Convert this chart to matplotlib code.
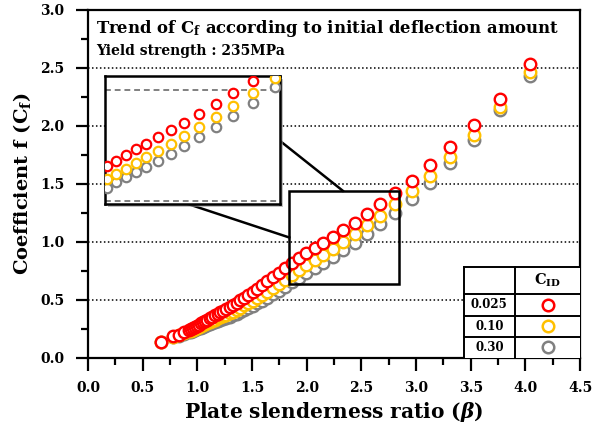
import matplotlib
matplotlib.use("Agg")
import matplotlib.pyplot as plt
from matplotlib.patches import Rectangle
from matplotlib.ticker import MultipleLocator

plt.rcParams["font.family"] = "DejaVu Serif"
plt.rcParams["font.weight"] = "bold"
plt.rcParams["mathtext.fontset"] = "custom"
plt.rcParams["mathtext.rm"] = "DejaVu Serif:bold"
plt.rcParams["mathtext.bf"] = "DejaVu Serif:bold"
plt.rcParams["mathtext.it"] = "DejaVu Serif:italic:bold"

# plate slenderness ratio
beta = [0.665, 0.78, 0.83, 0.88, 0.926, 0.942, 0.958, 0.975, 0.992, 1.011,
        1.029, 1.049, 1.069, 1.090, 1.112, 1.135, 1.159, 1.184, 1.210, 1.237,
        1.265, 1.295, 1.326, 1.358, 1.393, 1.429, 1.466, 1.506, 1.549, 1.593,
        1.641, 1.691, 1.744, 1.801, 1.862, 1.927, 1.996, 2.071, 2.152, 2.239,
        2.334, 2.437, 2.549, 2.672, 2.808, 2.959, 3.126, 3.313, 3.525, 3.765,
        4.04]

# coefficient f for each initial deflection amount
cf_0025 = [0.14, 0.185, 0.20, 0.22, 0.24, 0.248, 0.256, 0.265, 0.275, 0.286,
           0.296, 0.307, 0.318, 0.330, 0.341, 0.353, 0.366, 0.379, 0.392, 0.406,
           0.421, 0.437, 0.455, 0.474, 0.496, 0.518, 0.542, 0.569, 0.597, 0.625,
           0.658, 0.694, 0.732, 0.772, 0.815, 0.858, 0.900, 0.944, 0.990, 1.043,
           1.100, 1.166, 1.240, 1.322, 1.418, 1.527, 1.660, 1.820, 2.005, 2.230,
           2.530]
cf_010 = [0.14, 0.182, 0.195, 0.212, 0.228, 0.235, 0.241, 0.249, 0.257, 0.266,
          0.274, 0.283, 0.292, 0.301, 0.310, 0.319, 0.329, 0.339, 0.349, 0.360,
          0.372, 0.385, 0.399, 0.415, 0.433, 0.451, 0.471, 0.494, 0.518, 0.542,
          0.571, 0.603, 0.637, 0.674, 0.715, 0.756, 0.797, 0.840, 0.886, 0.940,
          0.998, 1.066, 1.142, 1.226, 1.324, 1.435, 1.570, 1.732, 1.923, 2.160,
          2.460]
cf_030 = [0.14, 0.18, 0.192, 0.207, 0.22, 0.226, 0.231, 0.238, 0.245, 0.253,
          0.26, 0.267, 0.275, 0.283, 0.29, 0.298, 0.306, 0.315, 0.323, 0.332,
          0.342, 0.352, 0.365, 0.378, 0.394, 0.41, 0.428, 0.449, 0.47, 0.492,
          0.518, 0.547, 0.579, 0.613, 0.651, 0.69, 0.729, 0.771, 0.816, 0.869,
          0.927, 0.994, 1.07, 1.154, 1.252, 1.372, 1.51, 1.68, 1.875, 2.14,
          2.43]

cid_labels = ["0.025", "0.10", "0.30"]
colors = ["#ff0000", "#ffc000", "#808080"]
series = [cf_0025, cf_010, cf_030]

# zoomed window shown in the inset
box_x = (1.84, 2.84)
box_y = (0.635, 1.44)

fig = plt.figure(figsize=(5.95, 4.28), dpi=100)
ax = fig.add_axes([0.148, 0.164, 0.827, 0.813])

def draw_series(a, ms, mew):
    # gray first so the red circles sit on top
    for ys, c in zip(series[::-1], colors[::-1]):
        a.plot(beta, ys, ls="none", marker="o", ms=ms, mew=mew,
               mec=c, mfc="white", zorder=3)

draw_series(ax, 8.3, 1.7)

ax.set_xlim(0, 4.5)
ax.set_ylim(0, 3.0)
ax.xaxis.set_major_locator(MultipleLocator(0.5))
ax.xaxis.set_minor_locator(MultipleLocator(0.25))
ax.yaxis.set_major_locator(MultipleLocator(0.5))
ax.yaxis.set_minor_locator(MultipleLocator(0.25))
ax.xaxis.set_major_formatter(lambda v, p: f"{v:.1f}")
ax.yaxis.set_major_formatter(lambda v, p: f"{v:.1f}")
ax.tick_params(which="major", direction="out", length=9, width=1.6,
               labelsize=10, pad=8)
ax.tick_params(which="minor", direction="out", length=5, width=1.6)
for s in ax.spines.values():
    s.set_linewidth(1.6)
for lab in ax.get_xticklabels() + ax.get_yticklabels():
    lab.set_fontweight("bold")

for yv in [0.5, 1.0, 1.5, 2.0, 2.5]:
    ax.axhline(yv, color="black", lw=1.1, ls=(0, (1, 1.6)), zorder=1)

ax.set_xlabel(r"Plate slenderness ratio ($\beta$)", fontsize=14.5,
              fontweight="bold", labelpad=3)
ax.set_ylabel(r"Coefficient f (C$_{\mathrm{f}}$)", fontsize=14,
              fontweight="bold", labelpad=5)

ax.text(0.016, 0.977, r"Trend of C$_{\mathrm{f}}$ according to initial deflection amount",
        transform=ax.transAxes, fontsize=11.9, fontweight="bold",
        va="top", ha="left")
ax.text(0.016, 0.902, "Yield strength : 235MPa", transform=ax.transAxes,
        fontsize=10, fontweight="bold", va="top", ha="left")

# zoom box on the main curve
ax.add_patch(Rectangle((box_x[0], box_y[0]), box_x[1] - box_x[0],
                       box_y[1] - box_y[0], fill=False, ec="black",
                       lw=1.8, zorder=4))

# inset with drop shadow
ins_rect = [0.0346, 0.4425, 0.356, 0.368]
ax.add_patch(Rectangle((ins_rect[0] + 0.006, ins_rect[1] - 0.008),
                       ins_rect[2], ins_rect[3], transform=ax.transAxes,
                       fc="#9a9a9a", ec="none", alpha=0.6, zorder=4.5))
ins = ax.inset_axes(ins_rect)
draw_series(ins, 6.8, 1.6)
ins.set_xlim(1.785, 2.997)
ins.set_ylim(0.49, 1.455)
ins.set_xticks([])
ins.set_yticks([])
for s in ins.spines.values():
    s.set_linewidth(1.8)
for yv in [1.35, 0.515]:
    ins.axhline(yv, color="#808080", lw=1.4, ls=(0, (3, 2)), zorder=1)

# connector lines: inset bottom-mid -> box left-mid, inset right-mid -> box top-mid
to_data = ax.transAxes + ax.transData.inverted()
p_bot = to_data.transform((ins_rect[0] + ins_rect[2] * 0.47, ins_rect[1]))
p_right = to_data.transform((ins_rect[0] + ins_rect[2], ins_rect[1] + ins_rect[3] * 0.49))
box_mid_x = (box_x[0] + box_x[1]) / 2 - 0.01 * (box_x[1] - box_x[0])
box_mid_y = (box_y[0] + box_y[1]) / 2
ax.plot([p_bot[0], box_x[0]], [p_bot[1], box_mid_y], color="black", lw=1.8, zorder=4)
ax.plot([p_right[0], box_mid_x], [p_right[1], box_y[1]], color="black", lw=1.8, zorder=4)

# table legend in the lower right corner
tx0, tx1, tx2 = 0.763, 0.868, 1.0
ty = [0.2606, 0.184, 0.1207, 0.0595, 0.0]
ax.add_patch(Rectangle((tx0, 0), tx2 - tx0, ty[0], transform=ax.transAxes,
                       fc="white", ec="none", zorder=6))
lk = dict(transform=ax.transAxes, color="black", lw=1.4, zorder=7, clip_on=False)
ax.plot([tx0, tx2], [ty[0], ty[0]], **lk)
for yv in ty[1:4]:
    ax.plot([tx0, tx2], [yv, yv], **lk)
ax.plot([tx0, tx0], [0, ty[0]], **lk)
ax.plot([tx1, tx1], [0, ty[0]], **lk)
ax.text((tx1 + tx2) / 2, (ty[0] + ty[1]) / 2, r"C$_{\mathrm{ID}}$",
        transform=ax.transAxes, ha="center", va="center", fontsize=10.5,
        fontweight="bold", zorder=8)
for i, (lab, c) in enumerate(zip(cid_labels, colors)):
    yc = (ty[i + 1] + ty[i + 2]) / 2
    ax.text((tx0 + tx1) / 2, yc, lab, transform=ax.transAxes, ha="center",
            va="center", fontsize=8.5, fontweight="bold", zorder=8)
    ax.plot([(tx1 + tx2) / 2], [yc], transform=ax.transAxes, ls="none",
            marker="o", ms=8.3, mew=1.8, mec=c, mfc="white", zorder=8,
            clip_on=False)

fig.savefig("out.png", dpi=100)
